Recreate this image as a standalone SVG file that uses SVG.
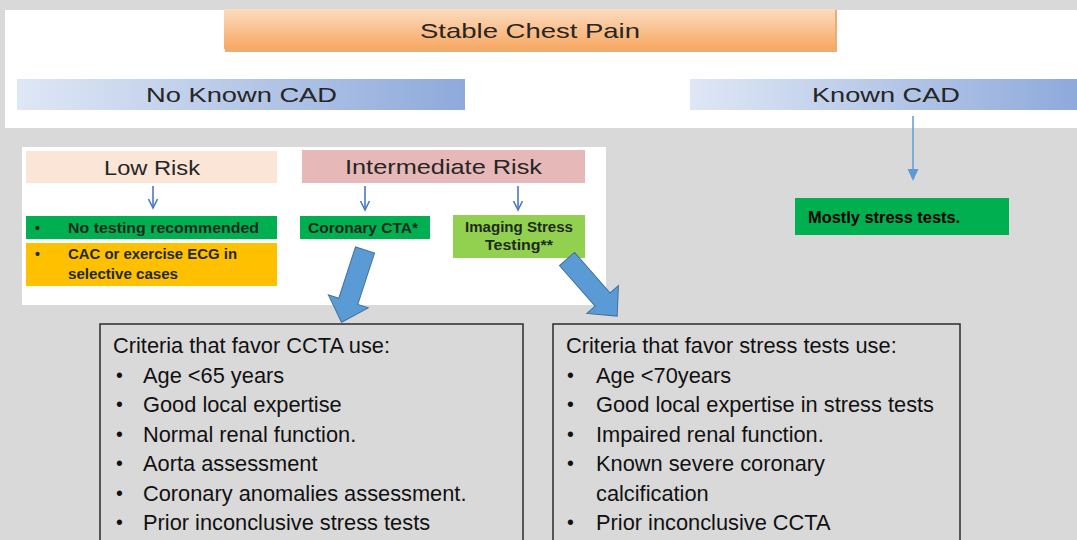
<svg xmlns="http://www.w3.org/2000/svg" width="1077" height="540" viewBox="0 0 1077 540">
<style>
.hdr{font-family:"Liberation Sans",Arial,sans-serif;font-size:21px;fill:#262626}
.sm{font-family:"Liberation Sans",Arial,sans-serif;font-size:14px;font-weight:bold;fill:#1f2a1f}
.crit{font-family:"Liberation Sans",Arial,sans-serif;font-size:21.8px;fill:#111}
.bul{font-family:"Liberation Sans",Arial,sans-serif;font-size:19.5px;fill:#111}
.box{fill:none;stroke:#2b2b2b;stroke-width:1.5}
.thin{stroke:#4a78c8;stroke-width:1.6;fill:none}
.big{fill:#5b9bd5;stroke:#41719c;stroke-width:1}
</style>
<defs>
<linearGradient id="blueBar" x1="0" y1="0" x2="1" y2="0">
<stop offset="0" stop-color="#dfe7f5"/>
<stop offset="1" stop-color="#8eaadb"/>
</linearGradient>
<linearGradient id="orangeBar" x1="0" y1="0" x2="0" y2="1">
<stop offset="0" stop-color="#fcdcc1"/>
<stop offset="1" stop-color="#f7a862"/>
</linearGradient>
<path id="blockArrow" d="M0,-10 L54,-10 L54,-21 L76,0 L54,21 L54,10 L0,10 Z"/>
<path id="chev" d="M-4.5,-9 L0,0 L4.5,-9"/>
</defs>
<rect width="1077" height="540" fill="#d9d9d9"/>
<rect x="5" y="10" width="1072" height="118" fill="#ffffff"/>
<rect x="22" y="147" width="584" height="158" fill="#ffffff"/>

<g id="stable-chest-pain">
<rect x="225" y="10" width="612" height="42" fill="#e08a3c" opacity="0.7"/>
<rect x="224" y="9" width="611" height="40" fill="url(#orangeBar)"/>
<text class="hdr" x="420" y="38" textLength="220" lengthAdjust="spacingAndGlyphs">Stable Chest Pain</text>
</g>
<g id="no-known-cad">
<rect x="17" y="79" width="448" height="31" fill="url(#blueBar)"/>
<text class="hdr" x="146" y="102" textLength="191" lengthAdjust="spacingAndGlyphs">No Known CAD</text>
</g>
<g id="known-cad">
<rect x="690" y="79" width="387" height="31" fill="url(#blueBar)"/>
<text class="hdr" x="812" y="102" textLength="148" lengthAdjust="spacingAndGlyphs">Known CAD</text>
</g>
<g id="low-risk">
<rect x="26" y="151" width="251" height="32" fill="#fbe5d6"/>
<text class="hdr" x="104" y="175" font-size="20" textLength="96" lengthAdjust="spacingAndGlyphs">Low Risk</text>
</g>
<g id="intermediate-risk">
<rect x="302" y="150" width="283" height="33" fill="#e6b9b8"/>
<text class="hdr" x="345" y="174" font-size="20" textLength="197" lengthAdjust="spacingAndGlyphs">Intermediate Risk</text>
</g>
<g id="no-testing">
<rect x="26" y="216" width="251" height="23" fill="#00b050"/>
<text class="sm" x="35" y="233">•</text>
<text class="sm" x="68" y="233" textLength="191" lengthAdjust="spacingAndGlyphs">No testing recommended</text>
</g>
<g id="cac-ecg">
<rect x="26" y="243" width="251" height="43" fill="#ffc000"/>
<text class="sm" x="35" y="259">•</text>
<text class="sm" x="68" y="259" textLength="169" lengthAdjust="spacingAndGlyphs">CAC or exercise ECG in</text>
<text class="sm" x="68" y="279" textLength="110" lengthAdjust="spacingAndGlyphs">selective cases</text>
</g>
<g id="coronary-cta">
<rect x="300" y="216" width="130" height="23" fill="#00b050"/>
<text class="sm" x="308" y="233" textLength="110" lengthAdjust="spacingAndGlyphs">Coronary CTA*</text>
</g>
<g id="imaging-stress">
<rect x="453" y="215" width="132" height="43" fill="#92d050"/>
<text class="sm" x="465" y="232" textLength="108" lengthAdjust="spacingAndGlyphs">Imaging Stress</text>
<text class="sm" x="485" y="250" textLength="68" lengthAdjust="spacingAndGlyphs">Testing**</text>
</g>
<g id="mostly-stress">
<rect x="795" y="198" width="214" height="37" fill="#00b050"/>
<text x="808" y="223" font-family="'Liberation Sans',Arial,sans-serif" font-weight="bold" font-size="16.4" fill="#000">Mostly stress tests.</text>
</g>
<g id="ccta-criteria">
<rect class="box" x="100" y="324" width="423" height="230"/>
<text class="crit" x="113" y="353">Criteria that favor CCTA use:</text>
<g class="bul">
<text x="116" y="381.5">•</text><text x="116" y="411">•</text><text x="116" y="440.5">•</text>
<text x="116" y="470">•</text><text x="116" y="499.5">•</text><text x="116" y="529">•</text>
</g>
<g class="crit">
<text x="143" y="382.5">Age &lt;65 years</text>
<text x="143" y="412">Good local expertise</text>
<text x="143" y="441.5">Normal renal function.</text>
<text x="143" y="471">Aorta assessment</text>
<text x="143" y="500.5">Coronary anomalies assessment.</text>
<text x="143" y="530">Prior inconclusive stress tests</text>
</g>
</g>
<g id="stress-criteria">
<rect class="box" x="553" y="324" width="407" height="230"/>
<text class="crit" x="566" y="353">Criteria that favor stress tests use:</text>
<g class="bul">
<text x="567" y="381.5">•</text><text x="567" y="411">•</text><text x="567" y="440.5">•</text>
<text x="567" y="470">•</text><text x="567" y="529">•</text>
</g>
<g class="crit">
<text x="596" y="382.5">Age &lt;70years</text>
<text x="596" y="412">Good local expertise in stress tests</text>
<text x="596" y="441.5">Impaired renal function.</text>
<text x="596" y="471">Known severe coronary</text>
<text x="596" y="500.5">calcification</text>
<text x="596" y="530">Prior inconclusive CCTA</text>
</g>
</g>
<g id="connectors">
<line class="thin" x1="153" y1="186" x2="153" y2="208"/>
<use href="#chev" class="thin" x="153" y="208"/>
<line class="thin" x1="365" y1="186" x2="365" y2="210"/>
<use href="#chev" class="thin" x="365" y="210"/>
<line class="thin" x1="518" y1="186" x2="518" y2="210"/>
<use href="#chev" class="thin" x="518" y="210"/>
<line x1="913" y1="116" x2="913" y2="172" stroke="#5b9bd5" stroke-width="1.5"/>
<path d="M907.5,169 L918.5,169 L913,181 Z" fill="#5b9bd5"/>
<use href="#blockArrow" class="big" transform="translate(365,250) rotate(108)"/>
<use href="#blockArrow" class="big" transform="translate(567,259) rotate(48.7)"/>
</g>
</svg>
